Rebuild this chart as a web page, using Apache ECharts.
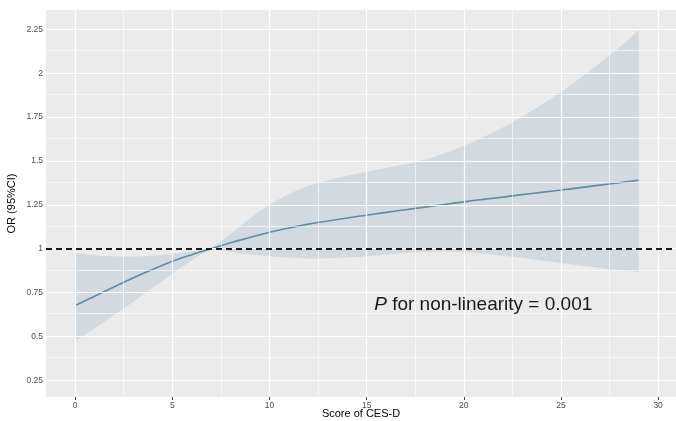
<!DOCTYPE html>
<html><head><meta charset="utf-8">
<script src="https://cdn.jsdelivr.net/npm/echarts@6/dist/echarts.min.js"></script>
<style>html,body{margin:0;padding:0;background:#fff}#c{width:676px;height:421px}</style>
</head><body><div id="c"></div>
<script>
const scores   = [0,1,2,3,4,5,6,7,8,9,10,11,12,13,14,15,16,17,18,19,20,21,22,23,24,25,26,27,28,29];
const orValues = [0.676,0.729,0.782,0.834,0.882,0.928,0.966,1.000,1.034,1.064,1.094,1.118,1.140,1.158,1.175,1.191,1.207,1.222,1.237,1.252,1.267,1.281,1.294,1.308,1.321,1.334,1.348,1.362,1.376,1.390];
const upperCI  = [0.976,0.963,0.957,0.955,0.960,0.972,0.985,1.000,1.085,1.172,1.250,1.312,1.357,1.390,1.416,1.438,1.460,1.482,1.508,1.543,1.585,1.635,1.690,1.752,1.820,1.893,1.972,2.058,2.148,2.245];
const lowerCI  = [0.472,0.546,0.622,0.698,0.778,0.856,0.934,1.000,0.983,0.968,0.957,0.948,0.944,0.945,0.950,0.957,0.966,0.975,0.981,0.983,0.980,0.972,0.960,0.947,0.933,0.918,0.904,0.890,0.877,0.866];
const xTicks = [0,5,10,15,20,25,30];
const yTicks = [0.25,0.5,0.75,1,1.25,1.5,1.75,2,2.25];
const xMinor = [2.5,7.5,12.5,17.5,22.5,27.5];
const yMinor = [0.375,0.625,0.875,1.125,1.375,1.625,1.875,2.125];
const refValue = 1;
const pinchScore = 7;
const annotation = {x: 21, y: 0.68, text: '{i|P} for non-linearity = 0.001'};

const FONT = '"Liberation Sans", Arial, sans-serif';
const pair = (arr) => scores.map((s, i) => [s, arr[i]]);

// Catmull-Rom style bezier through pixel points (rendering only), with breaks kept sharp
function smoothPath(pts, breaks, startCmd) {
  let d = (startCmd || 'M') + pts[0][0] + ' ' + pts[0][1];
  const segs = [];
  let start = 0;
  const cuts = breaks.slice().sort((a, b) => a - b).filter(b => b > 0 && b < pts.length - 1);
  cuts.concat([pts.length - 1]).forEach(end => { segs.push([start, end]); start = end; });
  segs.forEach(([a, b]) => {
    for (let i = a; i < b; i++) {
      const p0 = pts[Math.max(i - 1, a)], p1 = pts[i], p2 = pts[i + 1], p3 = pts[Math.min(i + 2, b)];
      const c1 = [p1[0] + (p2[0] - p0[0]) / 6, p1[1] + (p2[1] - p0[1]) / 6];
      const c2 = [p2[0] - (p3[0] - p1[0]) / 6, p2[1] - (p3[1] - p1[1]) / 6];
      d += ' C' + c1[0] + ' ' + c1[1] + ' ' + c2[0] + ' ' + c2[1] + ' ' + p2[0] + ' ' + p2[1];
    }
  });
  return d;
}

const gridLines = []
  .concat(xMinor.map(v => ({xAxis: v, lineStyle: {width: 0.6}})))
  .concat(yMinor.map(v => ({yAxis: v, lineStyle: {width: 0.6}})))
  .concat(xTicks.map(v => ({xAxis: v, lineStyle: {width: 1.2}})))
  .concat(yTicks.map(v => ({yAxis: v, lineStyle: {width: 1.2}})));

const chart = echarts.init(document.getElementById('c'), null, {renderer: 'canvas'});
chart.setOption({
  animation: false,
  textStyle: {fontFamily: FONT},
  grid: {left: 46, right: 0, top: 10, bottom: 24, show: true, backgroundColor: '#EBEBEB', borderWidth: 0,
    containLabel: false, outerBoundsMode: 'none'},
  xAxis: {
    type: 'value', min: -1.5, max: 30.92,
    name: 'Score of CES-D', nameLocation: 'middle', nameGap: 11, nameMoveOverlap: false,
    nameTextStyle: {color: '#000', fontSize: 11, fontFamily: FONT},
    axisLine: {show: false},
    axisTick: {show: true, length: 3, customValues: xTicks, lineStyle: {color: '#444', width: 1}},
    axisLabel: {customValues: xTicks, color: '#4D4D4D', fontSize: 8.5, margin: 4, fontFamily: FONT},
    splitLine: {show: false}
  },
  yAxis: {
    type: 'value', min: 0.155, max: 2.36,
    name: 'OR (95%CI)', nameLocation: 'middle', nameGap: 28.5, nameMoveOverlap: false,
    nameTextStyle: {color: '#000', fontSize: 11, fontFamily: FONT},
    axisLine: {show: false},
    axisTick: {show: true, length: 3, customValues: yTicks, lineStyle: {color: '#444', width: 1}},
    axisLabel: {customValues: yTicks, color: '#4D4D4D', fontSize: 8.5, margin: 3, fontFamily: FONT},
    splitLine: {show: false}
  },
  series: [
    {
      type: 'line', data: [], z: 1, silent: true,
      markLine: {silent: true, symbol: 'none', label: {show: false}, animation: false,
        lineStyle: {color: '#FFFFFF', type: 'solid'}, data: gridLines}
    },
    {
      name: '95% CI', type: 'custom', z: 2, silent: true,
      data: scores.map((s, i) => [s, lowerCI[i], upperCI[i]]),
      encode: {x: 0, y: [1, 2]},
      renderItem: function (params, api) {
        if (params.dataIndex !== 0) return null;
        const up = scores.map((s, i) => api.coord([s, upperCI[i]]));
        const lo = scores.map((s, i) => api.coord([s, lowerCI[i]])).reverse();
        const k = scores.indexOf(pinchScore);
        const d = smoothPath(up, [k]) + ' ' + smoothPath(lo, [scores.length - 1 - k], 'L') + ' Z';
        return {type: 'path', shape: {pathData: d}, style: {fill: 'rgba(160,184,201,0.32)'}};
      }
    },
    {
      name: 'OR', type: 'line', data: pair(orValues), smooth: 0.4, z: 3,
      showSymbol: false, symbol: 'none', lineStyle: {color: '#5A8EA4', width: 1.6}
    },
    {
      type: 'line', data: [], z: 4, silent: true,
      markLine: {silent: true, symbol: 'none', label: {show: false}, animation: false,
        lineStyle: {color: '#1A1A1A', type: [6, 4], width: 2}, data: [{yAxis: refValue}]},
      markPoint: {silent: true, symbol: 'circle', symbolSize: 0, animation: false,
        data: [{coord: [annotation.x, annotation.y]}],
        label: {show: true, position: 'inside', formatter: annotation.text, color: '#1A1A1A',
          fontSize: 19, fontFamily: FONT,
          rich: {i: {fontStyle: 'italic', fontSize: 19, color: '#1A1A1A', fontFamily: FONT}}}}
    }
  ]
});
</script>
</body></html>
